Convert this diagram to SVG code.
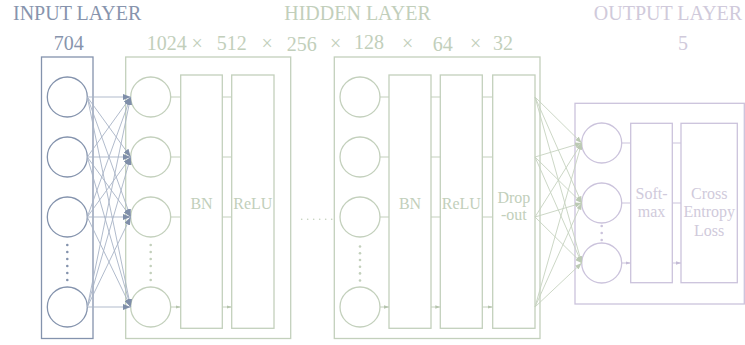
<svg xmlns="http://www.w3.org/2000/svg" width="745" height="345" viewBox="0 0 745 345" font-family="'Liberation Serif', 'DejaVu Serif', serif">
<defs>
<style>
text{font-family:"Liberation Serif","DejaVu Serif",serif}
.ttl{font-size:20px}
.inT{fill:#8794ad}
.hiT{fill:#c2cfbb}
.ouT{fill:#d0cadb}
.lbl{font-size:16px;text-anchor:middle}
.inS{fill:none;stroke:#8493ad;stroke-width:1.3}
.hiS{fill:none;stroke:#c3d0bc;stroke-width:1.3}
.ouS{fill:none;stroke:#cbc3dc;stroke-width:1.3}
.inL{stroke:#a8b3c6;stroke-width:0.9;fill:none}
.hiL{stroke:#c6d2bf;stroke-width:0.9;fill:none}
.sa{stroke-width:1;fill:none}
</style>
<marker id="aIn" viewBox="0 0 8 6" refX="8" refY="3" markerWidth="8" markerHeight="6" markerUnits="userSpaceOnUse" orient="auto"><path d="M0,0 L8,3 L0,6 z" fill="#7f8ea9"/></marker>
<marker id="aHi" viewBox="0 0 8 6" refX="8" refY="3" markerWidth="7" markerHeight="5" markerUnits="userSpaceOnUse" orient="auto"><path d="M0,0 L8,3 L0,6 z" fill="#bccab4"/></marker>
<marker id="sHi" viewBox="0 0 6 4" refX="6" refY="2" markerWidth="5" markerHeight="4" markerUnits="userSpaceOnUse" orient="auto"><path d="M0,0 L6,2 L0,4 z" fill="#b5c4ad"/></marker>
<marker id="sOu" viewBox="0 0 6 4" refX="6" refY="2" markerWidth="5" markerHeight="4" markerUnits="userSpaceOnUse" orient="auto"><path d="M0,0 L6,2 L0,4 z" fill="#c4bbd6"/></marker>
</defs>
<rect width="745" height="345" fill="#ffffff"/>

<g id="titles" font-family="'Liberation Serif', serif">
<text class="ttl inT" x="13" y="19.5">INPUT LAYER</text>
<text class="ttl hiT" x="357.5" y="19.5" text-anchor="middle">HIDDEN LAYER</text>
<text class="ttl ouT" x="668" y="19.5" text-anchor="middle">OUTPUT LAYER</text>
<text class="ttl inT" x="68.8" y="49.5" text-anchor="middle">704</text>
<text class="ttl ouT" x="683" y="49.5" text-anchor="middle">5</text>
<text class="ttl hiT" x="146.7" y="49.5">1024</text>
<text class="ttl hiT" x="191.5" y="49.5">×</text>
<text class="ttl hiT" x="216.7" y="49.5">512</text>
<text class="ttl hiT" x="261.5" y="49.5">×</text>
<text class="ttl hiT" x="286.7" y="51">256</text>
<text class="ttl hiT" x="330" y="49.5">×</text>
<text class="ttl hiT" x="354" y="48.5">128</text>
<text class="ttl hiT" x="402" y="49.5">×</text>
<text class="ttl hiT" x="432.7" y="51">64</text>
<text class="ttl hiT" x="470" y="49.5">×</text>
<text class="ttl hiT" x="493" y="49.5">32</text>
</g>

<g id="input-layer">
<rect class="inS" x="41.5" y="57" width="51.5" height="281.5"/>
<circle class="inS" cx="67.3" cy="97" r="20"/>
<circle class="inS" cx="67.3" cy="157" r="20"/>
<circle class="inS" cx="67.3" cy="217" r="20"/>
<circle class="inS" cx="67.3" cy="307" r="20"/>
<g fill="#8493ad">
<circle cx="67.3" cy="245" r="1.3"/><circle cx="67.3" cy="252" r="1.3"/><circle cx="67.3" cy="259" r="1.3"/><circle cx="67.3" cy="266" r="1.3"/><circle cx="67.3" cy="273" r="1.3"/><circle cx="67.3" cy="280" r="1.3"/>
</g>
</g>

<g id="hidden-group-1">
<rect class="hiS" x="125.7" y="57" width="165" height="281.5"/>
<circle class="hiS" cx="150.7" cy="97" r="20"/>
<circle class="hiS" cx="150.7" cy="157" r="20"/>
<circle class="hiS" cx="150.7" cy="217" r="20"/>
<circle class="hiS" cx="150.7" cy="307" r="20"/>
<g fill="#c3d0bc">
<circle cx="150.7" cy="245" r="1.3"/><circle cx="150.7" cy="252" r="1.3"/><circle cx="150.7" cy="259" r="1.3"/><circle cx="150.7" cy="266" r="1.3"/><circle cx="150.7" cy="273" r="1.3"/><circle cx="150.7" cy="280" r="1.3"/>
</g>
<g id="bn-1"><rect class="hiS" x="180.7" y="75" width="41.6" height="253.3"/><text class="lbl hiT" x="201.5" y="209">BN</text></g>
<g id="relu-1"><rect class="hiS" x="231.7" y="75" width="42.3" height="253.3"/><text class="lbl hiT" x="252.8" y="209">ReLU</text></g>
</g>

<g id="ellipsis" fill="#c3d0bc">
<circle cx="301.7" cy="219.3" r="0.8"/><circle cx="307.7" cy="219.3" r="0.8"/><circle cx="313.7" cy="219.3" r="0.8"/><circle cx="319.7" cy="219.3" r="0.8"/><circle cx="325.7" cy="219.3" r="0.8"/><circle cx="331.7" cy="219.3" r="0.8"/>
</g>

<g id="hidden-group-2">
<rect class="hiS" x="334.3" y="57" width="205.7" height="281.5"/>
<circle class="hiS" cx="360" cy="97" r="20"/>
<circle class="hiS" cx="360" cy="157" r="20"/>
<circle class="hiS" cx="360" cy="217" r="20"/>
<circle class="hiS" cx="360" cy="307" r="20"/>
<g fill="#c3d0bc">
<circle cx="360" cy="246.5" r="1.3"/><circle cx="360" cy="253.3" r="1.3"/><circle cx="360" cy="260" r="1.3"/><circle cx="360" cy="266.7" r="1.3"/><circle cx="360" cy="273.4" r="1.3"/><circle cx="360" cy="280.5" r="1.3"/>
</g>
<g id="bn-2"><rect class="hiS" x="389" y="75" width="42" height="253.3"/><text class="lbl hiT" x="410" y="209">BN</text></g>
<g id="relu-2"><rect class="hiS" x="440.3" y="75" width="42" height="253.3"/><text class="lbl hiT" x="461.3" y="209">ReLU</text></g>
<g id="dropout"><rect class="hiS" x="492.7" y="75" width="42.3" height="253.3"/><text class="lbl hiT" x="513.9" y="203">Drop</text><text class="lbl hiT" x="513.9" y="220">-out</text></g>
</g>

<g id="output-layer">
<rect class="ouS" x="575" y="103.3" width="169.3" height="200.7"/>
<circle class="ouS" cx="601.7" cy="143" r="20"/>
<circle class="ouS" cx="601.7" cy="203" r="20"/>
<circle class="ouS" cx="601.7" cy="263" r="20"/>
<g fill="#cbc3dc"><circle cx="601.7" cy="226" r="1.3"/><circle cx="601.7" cy="233" r="1.3"/><circle cx="601.7" cy="240" r="1.3"/></g>
<g id="softmax"><rect class="ouS" x="630.7" y="123.3" width="41.6" height="159.4"/><text class="lbl ouT" x="651.5" y="199">Soft-</text><text class="lbl ouT" x="651.5" y="217">max</text></g>
<g id="cross-entropy"><rect class="ouS" x="681" y="123.3" width="56.3" height="159.4"/><text class="lbl ouT" x="709.2" y="199">Cross</text><text class="lbl ouT" x="709.2" y="217">Entropy</text><text class="lbl ouT" x="709.2" y="236">Loss</text></g>
</g>

<g id="connectors">
<g class="inL" marker-end="url(#aIn)">
<line x1="87.3" y1="97" x2="130.7" y2="97"/><line x1="87.3" y1="97" x2="130.7" y2="157"/><line x1="87.3" y1="97" x2="130.7" y2="217"/><line x1="87.3" y1="97" x2="130.7" y2="307"/>
<line x1="87.3" y1="157" x2="130.7" y2="97"/><line x1="87.3" y1="157" x2="130.7" y2="157"/><line x1="87.3" y1="157" x2="130.7" y2="217"/><line x1="87.3" y1="157" x2="130.7" y2="307"/>
<line x1="87.3" y1="217" x2="130.7" y2="97"/><line x1="87.3" y1="217" x2="130.7" y2="157"/><line x1="87.3" y1="217" x2="130.7" y2="217"/><line x1="87.3" y1="217" x2="130.7" y2="307"/>
<line x1="87.3" y1="307" x2="130.7" y2="97"/><line x1="87.3" y1="307" x2="130.7" y2="157"/><line x1="87.3" y1="307" x2="130.7" y2="217"/><line x1="87.3" y1="307" x2="130.7" y2="307"/>
</g>
<g class="hiL" marker-end="url(#aHi)">
<line x1="535" y1="97" x2="581.7" y2="143"/><line x1="535" y1="97" x2="581.7" y2="203"/><line x1="535" y1="97" x2="581.7" y2="263"/>
<line x1="535" y1="157" x2="581.7" y2="143"/><line x1="535" y1="157" x2="581.7" y2="203"/><line x1="535" y1="157" x2="581.7" y2="263"/>
<line x1="535" y1="217" x2="581.7" y2="143"/><line x1="535" y1="217" x2="581.7" y2="203"/><line x1="535" y1="217" x2="581.7" y2="263"/>
<line x1="535" y1="307" x2="581.7" y2="143"/><line x1="535" y1="307" x2="581.7" y2="203"/><line x1="535" y1="307" x2="581.7" y2="263"/>
</g>
<g class="sa" stroke="#c3d0bc" marker-end="url(#sHi)">
<path d="M170.7,97H180.7M170.7,157H180.7M170.7,217H180.7M170.7,307H180.7"/>
<path d="M222.3,97H231.7M222.3,157H231.7M222.3,217H231.7M222.3,307H231.7"/>
<path d="M380,97H389M380,157H389M380,217H389M380,307H389"/>
<path d="M431,97H440.3M431,157H440.3M431,217H440.3M431,307H440.3"/>
<path d="M482.3,97H492.7M482.3,157H492.7M482.3,217H492.7M482.3,307H492.7"/>
</g>
<g class="sa" stroke="#cbc3dc" marker-end="url(#sOu)">
<path d="M621.7,143H630.7M621.7,203H630.7M621.7,263H630.7"/>
<path d="M672.3,143H681M672.3,203H681M672.3,263H681"/>
</g>
</g>
</svg>
